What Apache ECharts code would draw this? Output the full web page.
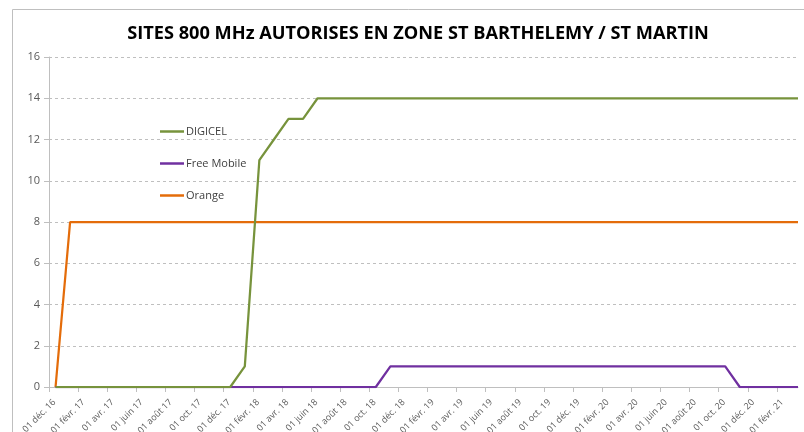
<!DOCTYPE html>
<html>
<head>
<meta charset="utf-8">
<script src="https://cdn.jsdelivr.net/npm/echarts@6/dist/echarts.min.js"></script>
<style>
  html, body { margin: 0; padding: 0; background: #fff; }
  #chart { width: 804px; height: 432px; }
</style>
</head>
<body>
<div id="chart"></div>
<script>
// un point par mois, relevé vers le 15 (déc. 16 -> mars 21)
const months = [
  "déc. 16", "janv. 17", "févr. 17", "mars 17", "avr. 17", "mai 17", "juin 17", "juil. 17", "août 17", "sept. 17", "oct. 17", "nov. 17",
  "déc. 17", "janv. 18", "févr. 18", "mars 18", "avr. 18", "mai 18", "juin 18", "juil. 18", "août 18", "sept. 18", "oct. 18", "nov. 18",
  "déc. 18", "janv. 19", "févr. 19", "mars 19", "avr. 19", "mai 19", "juin 19", "juil. 19", "août 19", "sept. 19", "oct. 19", "nov. 19",
  "déc. 19", "janv. 20", "févr. 20", "mars 20", "avr. 20", "mai 20", "juin 20", "juil. 20", "août 20", "sept. 20", "oct. 20", "nov. 20",
  "déc. 20", "janv. 21", "févr. 21", "mars 21"
];

const digicel = [
  0, 0, 0, 0, 0, 0, 0, 0, 0, 0, 0, 0,
  0, 1, 11, 12, 13, 13, 14, 14, 14, 14, 14, 14,
  14, 14, 14, 14, 14, 14, 14, 14, 14, 14, 14, 14,
  14, 14, 14, 14, 14, 14, 14, 14, 14, 14, 14, 14,
  14, 14, 14, 14
];

const freeMobile = [
  0, 0, 0, 0, 0, 0, 0, 0, 0, 0, 0, 0,
  0, 0, 0, 0, 0, 0, 0, 0, 0, 0, 0, 1,
  1, 1, 1, 1, 1, 1, 1, 1, 1, 1, 1, 1,
  1, 1, 1, 1, 1, 1, 1, 1, 1, 1, 1, 0,
  0, 0, 0, 0
];

const orange = [
  0, 8, 8, 8, 8, 8, 8, 8, 8, 8, 8, 8,
  8, 8, 8, 8, 8, 8, 8, 8, 8, 8, 8, 8,
  8, 8, 8, 8, 8, 8, 8, 8, 8, 8, 8, 8,
  8, 8, 8, 8, 8, 8, 8, 8, 8, 8, 8, 8,
  8, 8, 8, 8
];

// graduations tous les 2 mois, à partir du 01 déc. 16
const tickLabels = [
  "01 déc. 16", "01 févr. 17", "01 avr. 17", "01 juin 17", "01 août 17", "01 oct. 17",
  "01 déc. 17", "01 févr. 18", "01 avr. 18", "01 juin 18", "01 août 18", "01 oct. 18",
  "01 déc. 18", "01 févr. 19", "01 avr. 19", "01 juin 19", "01 août 19", "01 oct. 19",
  "01 déc. 19", "01 févr. 20", "01 avr. 20", "01 juin 20", "01 août 20", "01 oct. 20",
  "01 déc. 20", "01 févr. 21"
];

// axe x en mois depuis le 01 déc. 16 ; relevé le 15 => +0.45 mois
const midMonth = 0.45;
const toPoints = (values) => values.map((v, i) => [i + midMonth, v]);

const chart = echarts.init(document.getElementById("chart"));

const option = {
  animation: false,
  textStyle: { fontFamily: "Open Sans, Noto Sans, sans-serif" },
  graphic: [
    {
      type: "rect",
      shape: { x: 12.5, y: 9.5, width: 820, height: 460 },
      style: { fill: "none", stroke: "#BFBFBF", lineWidth: 1 },
      silent: true,
    },
  ],
  title: {
    text: "SITES 800 MHz AUTORISES EN ZONE ST BARTHELEMY / ST MARTIN",
    left: 413,
    top: 20,
    textAlign: "center",
    textStyle: {
      fontSize: 18.2,
      fontWeight: "bold",
      color: "#000",
      fontFamily: "Open Sans, Noto Sans, sans-serif",
    },
  },
  legend: {
    orient: "vertical",
    left: 160,
    top: 126,
    padding: 0,
    itemGap: 21,
    itemWidth: 24,
    itemHeight: 2.5,
    icon: "rect",
    textStyle: { fontSize: 11, color: "#404040", padding: [0, 0, 0, -3] },
    data: ["DIGICEL", "Free Mobile", "Orange"],
  },
  grid: {
    left: 49,
    right: 6,
    top: 57,
    bottom: 45,
    outerBoundsMode: "none",
  },
  xAxis: {
    type: "value",
    min: 0,
    max: months.length - 1 + midMonth,
    interval: 2,
    splitLine: { show: false },
    axisLine: { show: true, lineStyle: { color: "#BFBFBF", width: 1 } },
    axisTick: {
      show: true,
      length: 5,
      lineStyle: { color: "#BFBFBF" },
    },
    axisLabel: {
      rotate: 45,
      fontSize: 9,
      color: "#595959",
      margin: 8.5,
      verticalAlign: "top",
      padding: [3, 0, 0, 0],
      showMaxLabel: false,
      formatter: (v) => {
        if (Math.abs(v - Math.round(v)) > 1e-6) return "";
        const k = Math.round(v);
        return k % 2 === 0 && tickLabels[k / 2] ? tickLabels[k / 2] : "";
      },
    },
  },
  yAxis: {
    type: "value",
    min: 0,
    max: 16,
    interval: 2,
    axisLine: { show: true, lineStyle: { color: "#BFBFBF", width: 1 } },
    axisTick: { show: true, length: 5, lineStyle: { color: "#BFBFBF" } },
    axisLabel: { fontSize: 11, color: "#595959", margin: 9 },
    splitLine: {
      show: true,
      lineStyle: { color: "#BFBFBF", type: [3, 3], width: 1 },
    },
  },
  series: [
    {
      name: "DIGICEL",
      type: "line",
      data: toPoints(digicel),
      symbol: "none",
      lineStyle: { color: "#77933C", width: 2.25 },
      itemStyle: { color: "#77933C" },
      z: 3,
    },
    {
      name: "Free Mobile",
      type: "line",
      data: toPoints(freeMobile),
      symbol: "none",
      lineStyle: { color: "#7030A0", width: 2.25 },
      itemStyle: { color: "#7030A0" },
      z: 2,
    },
    {
      name: "Orange",
      type: "line",
      data: toPoints(orange),
      symbol: "none",
      lineStyle: { color: "#E46C0A", width: 2.25 },
      itemStyle: { color: "#E46C0A" },
      z: 1,
    },
  ],
};

chart.setOption(option);
</script>
</body>
</html>
